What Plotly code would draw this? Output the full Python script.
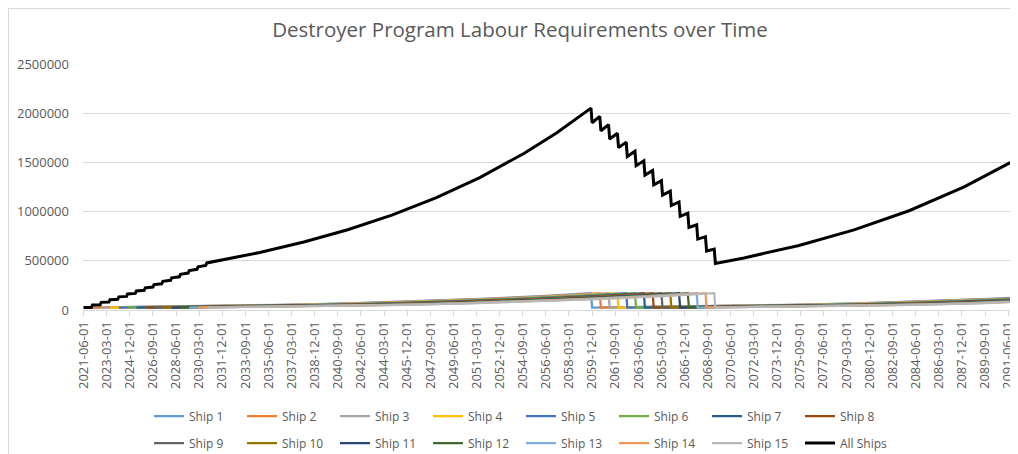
import pandas as pd
import plotly.graph_objects as go

# ---------------- data ----------------
ship_names = [f"Ship {i}" for i in range(1, 16)]
ship_colors = ["#5B9BD5", "#ED7D31", "#A5A5A5", "#FFC000", "#4472C4", "#70AD47",
               "#255E91", "#9E480E", "#636363", "#997300", "#264478", "#43682B",
               "#7CAFDD", "#F1975A", "#B7B7B7"]

# start month of each ship's labour curve
ship_start = ["2021-06-01", "2022-02-01", "2022-10-01", "2023-06-01", "2024-02-01",
              "2024-10-01", "2025-06-01", "2026-02-01", "2026-10-01", "2027-06-01",
              "2028-02-01", "2028-10-01", "2029-06-01", "2030-02-01", "2030-10-01"]
# month at which each ship's curve resets
ship_reset = ["2059-12-01", "2060-08-01", "2061-04-01", "2061-12-01", "2062-08-01",
              "2063-04-01", "2063-12-01", "2064-08-01", "2065-04-01", "2065-12-01",
              "2066-08-01", "2067-04-01", "2067-12-01", "2068-08-01", "2069-04-01"]
# labour per ship by age (months since start / reset)
ship_age_months = [0, 60, 120, 180, 240, 300, 360, 420, 461]
ship_age_values = [25000, 32100, 41200, 53000, 68000, 87300, 112200, 144100, 170900]

# All Ships total
total_dates = [
    "2021-06-01", "2022-01-01", "2022-02-01", "2022-09-01", "2022-10-01",
    "2023-05-01", "2023-06-01", "2024-01-01", "2024-02-01", "2024-09-01",
    "2024-10-01", "2025-05-01", "2025-06-01", "2026-01-01", "2026-02-01",
    "2026-09-01", "2026-10-01", "2027-05-01", "2027-06-01", "2028-01-01",
    "2028-02-01", "2028-09-01", "2028-10-01", "2029-05-01", "2029-06-01",
    "2030-01-01", "2030-02-01", "2030-09-01", "2030-10-01",
    "2032-04-01", "2034-10-01", "2038-02-01", "2041-06-01", "2044-10-01",
    "2048-02-01", "2051-06-01", "2054-10-01", "2057-04-01",
    "2059-11-01", "2059-12-01", "2060-07-01", "2060-08-01", "2061-03-01",
    "2061-04-01", "2061-11-01", "2061-12-01", "2062-07-01", "2062-08-01",
    "2063-03-01", "2063-04-01", "2063-11-01", "2063-12-01", "2064-07-01",
    "2064-08-01", "2065-03-01", "2065-04-01", "2065-11-01", "2065-12-01",
    "2066-07-01", "2066-08-01", "2067-03-01", "2067-04-01", "2067-11-01",
    "2067-12-01", "2068-07-01", "2068-08-01", "2069-03-01", "2069-04-01",
    "2071-06-01", "2075-08-01", "2079-10-01", "2083-12-01", "2088-02-01",
    "2091-09-01"]
total_values = [
    25000, 25850, 50850, 52540, 77540,
    80220, 105220, 108730, 133730, 138320,
    163320, 168820, 193820, 200390, 225390,
    233020, 258020, 266800, 291800, 301720,
    326720, 337790, 362790, 375070, 400070,
    413660, 438660, 453540, 478540,
    515900, 584500, 690700, 816100, 964200,
    1139300, 1346100, 1590400, 1802200,
    2051500, 1903000, 1967500, 1821500, 1883250,
    1737250, 1796140, 1650140, 1706080, 1560080,
    1612970, 1466970, 1516700, 1370700, 1417170,
    1271170, 1314260, 1168260, 1207860, 1061860,
    1097860, 951860, 984130, 838130, 866540,
    720540, 744970, 598970, 619280, 473280,
    529300, 656200, 813600, 1008800, 1250700,
    1504800]

tick_labels = ["2021-06-01", "2023-03-01", "2024-12-01", "2026-09-01", "2028-06-01",
               "2030-03-01", "2031-12-01", "2033-09-01", "2035-06-01", "2037-03-01",
               "2038-12-01", "2040-09-01", "2042-06-01", "2044-03-01", "2045-12-01",
               "2047-09-01", "2049-06-01", "2051-03-01", "2052-12-01", "2054-09-01",
               "2056-06-01", "2058-03-01", "2059-12-01", "2061-09-01", "2063-06-01",
               "2065-03-01", "2066-12-01", "2068-09-01", "2070-06-01", "2072-03-01",
               "2073-12-01", "2075-09-01", "2077-06-01", "2079-03-01", "2080-12-01",
               "2082-09-01", "2084-06-01", "2086-03-01", "2087-12-01", "2089-09-01",
               "2091-06-01"]

# ---------------- figure ----------------
FONT = "Open Sans"
GREY = "#595959"
OFF = 8                      # page body margin of the html page
W, H = 1018 - OFF, 454 - OFF
PL, PR, PT, PB = 83, 1012, 64, 310   # plot area in window pixels
ML, MR, MT = PL - OFF, 1018 - PR, PT - OFF
MB = H - (PB - OFF)
PW, PH = W - ML - MR, H - MT - MB


def px_x(p):   # window pixel -> paper x
    return (p - OFF - ML) / PW


def px_y(p):   # window pixel -> paper y
    return (H - MB - (p - OFF)) / PH


fig = go.Figure()

for i, name in enumerate(ship_names):
    xs, ys = [], []
    s0 = pd.Timestamp(ship_start[i])
    for a, v in zip(ship_age_months, ship_age_values):
        xs.append(s0 + pd.DateOffset(months=a))
        ys.append(v)
    r0 = pd.Timestamp(ship_reset[i])
    for a, v in zip(ship_age_months, ship_age_values):
        xs.append(r0 + pd.DateOffset(months=a))
        ys.append(v)
    fig.add_trace(go.Scatter(
        x=xs, y=ys, mode="lines", name=name,
        line=dict(color=ship_colors[i], width=2.25),
        legend="legend" if i < 8 else "legend2"))

fig.add_trace(go.Scatter(
    x=pd.to_datetime(total_dates), y=total_values, mode="lines", name="All Ships",
    line=dict(color="#000000", width=3), legend="legend2"))

legend_common = dict(orientation="h", entrywidth=48, entrywidthmode="pixels",
                     font=dict(family=FONT, size=12, color=GREY),
                     bgcolor="rgba(0,0,0,0)", xanchor="left", yanchor="middle",
                     tracegroupgap=0, itemclick=False)

fig.update_layout(
    width=W, height=H,
    margin=dict(l=ML, r=MR, t=MT, b=MB, autoexpand=False),
    paper_bgcolor="white", plot_bgcolor="white",
    title=dict(text="Destroyer Program Labour Requirements over Time",
               x=px_x(520) * PW / W + ML / W, xref="container", xanchor="center",
               y=1 - (30 - OFF) / H, yanchor="middle",
               font=dict(family=FONT, size=20.5, color=GREY)),
    xaxis=dict(type="date", range=["2021-05-16", "2091-09-16"], automargin=False,
               tickvals=pd.to_datetime(tick_labels), ticktext=tick_labels,
               tickangle=-90, tickfont=dict(family=FONT, size=13, color=GREY),
               showgrid=False, showline=True, linecolor="#D9D9D9", linewidth=1,
               ticks="outside", ticklen=5, tickcolor="#D9D9D9"),
    yaxis=dict(range=[0, 2500000], automargin=False,
               tickvals=[0, 500000, 1000000, 1500000, 2000000, 2500000],
               tickformat="d", tickfont=dict(family=FONT, size=13, color=GREY),
               showgrid=True, gridcolor="#D9D9D9", gridwidth=1,
               zeroline=False, ticklabelstandoff=13),
    legend=dict(x=px_x(149), y=px_y(416), **legend_common),
    legend2=dict(x=px_x(149), y=px_y(443), **legend_common),
    showlegend=True,
    shapes=[dict(type="line", xref="paper", yref="paper",
                 x0=px_x(8.5), x1=px_x(8.5), y0=px_y(470), y1=px_y(8.5),
                 line=dict(color="#D9D9D9", width=1)),
            dict(type="line", xref="paper", yref="paper",
                 x0=px_x(8.5), x1=px_x(1030), y0=px_y(8.5), y1=px_y(8.5),
                 line=dict(color="#D9D9D9", width=1))],
)

fig.write_html("out.html")
